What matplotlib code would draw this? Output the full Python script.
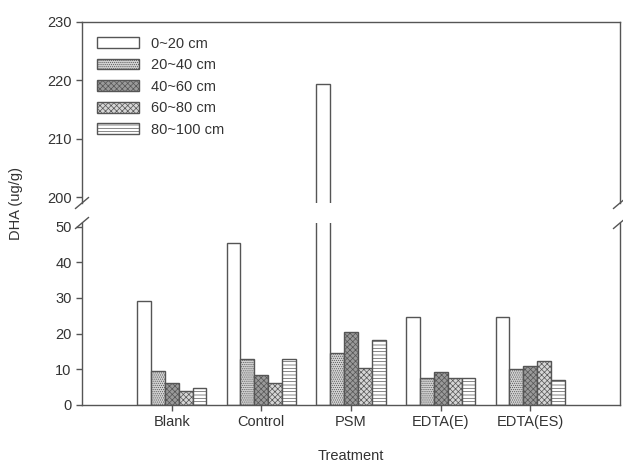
import numpy as np
import matplotlib
matplotlib.use('Agg')
import matplotlib.pyplot as plt

plt.rcParams['font.family'] = ['Liberation Sans', 'DejaVu Sans']
plt.rcParams['hatch.linewidth'] = 0.5

# data
treatments = ['Blank', 'Control', 'PSM', 'EDTA(E)', 'EDTA(ES)']
depths = ['0~20 cm', '20~40 cm', '40~60 cm', '60~80 cm', '80~100 cm']
dha = {
    '0~20 cm':   [29.2, 45.5, 219.4, 24.6, 24.6],
    '20~40 cm':  [9.4, 12.8, 14.5, 7.7, 10.0],
    '40~60 cm':  [6.3, 8.4, 20.4, 9.2, 10.8],
    '60~80 cm':  [4.0, 6.3, 10.5, 7.5, 12.4],
    '80~100 cm': [4.7, 12.8, 18.1, 7.5, 7.0],
}

styles = [
    dict(facecolor='white', hatch=None),
    dict(facecolor='#d2d2d2', hatch='........'),
    dict(facecolor='#9a9a9a', hatch='xxxxxx'),
    dict(facecolor='#d6d6d6', hatch='xxxxxx'),
    dict(facecolor='white', hatch='-----'),
]
edge = '#555555'
axcol = '#555555'
txtcol = '#333333'

fig = plt.figure(figsize=(6.23, 4.71), dpi=100)
ax_lo = fig.add_axes([82 / 623, 66 / 471, 538 / 623, 182 / 471])
ax_hi = fig.add_axes([82 / 623, 268 / 471, 538 / 623, 181 / 471])

x = np.arange(1, len(treatments) + 1)
w = 0.155
for ax in (ax_lo, ax_hi):
    for i, d in enumerate(depths):
        ax.bar(x + (i - 2) * w, dha[d], width=w, edgecolor=edge, linewidth=1.0,
               label=d, **styles[i])
    ax.set_xlim(0, 6)
    for s in ax.spines.values():
        s.set_color(axcol)
        s.set_linewidth(1.0)
    ax.tick_params(direction='out', length=4, width=1.0, color=axcol,
                   labelcolor=txtcol, labelsize=10.5)

ax_lo.set_ylim(0, 51)
ax_lo.set_yticks([0, 10, 20, 30, 40, 50])
ax_lo.spines['top'].set_visible(False)
ax_lo.set_xticks(x)
ax_lo.set_xticklabels(treatments)
ax_lo.set_xlabel('Treatment', color=txtcol, fontsize=10.5, labelpad=14)

ax_hi.set_ylim(199, 230)
ax_hi.set_yticks([200, 210, 220, 230])
ax_hi.spines['bottom'].set_visible(False)
ax_hi.set_xticks([])

# break marks
kw = dict(color=axcol, linewidth=1.0, clip_on=False)
dx, dy = 0.012, 0.03
for xx in (0, 1):
    ax_hi.plot([xx - dx, xx + dx], [-dy, dy], transform=ax_hi.transAxes, **kw)
    ax_lo.plot([xx - dx, xx + dx], [1 - dy, 1 + dy], transform=ax_lo.transAxes, **kw)

fig.text(16 / 623, 1 - 203 / 471, 'DHA (ug/g)', rotation=90, va='center', ha='center',
         color=txtcol, fontsize=10.5)

ax_hi.legend(loc='upper left', frameon=False, fontsize=10.5, handlelength=2.9,
             handleheight=0.75, labelspacing=0.52, borderaxespad=0.6,
             labelcolor=txtcol)

fig.savefig('out.png', dpi=100)
